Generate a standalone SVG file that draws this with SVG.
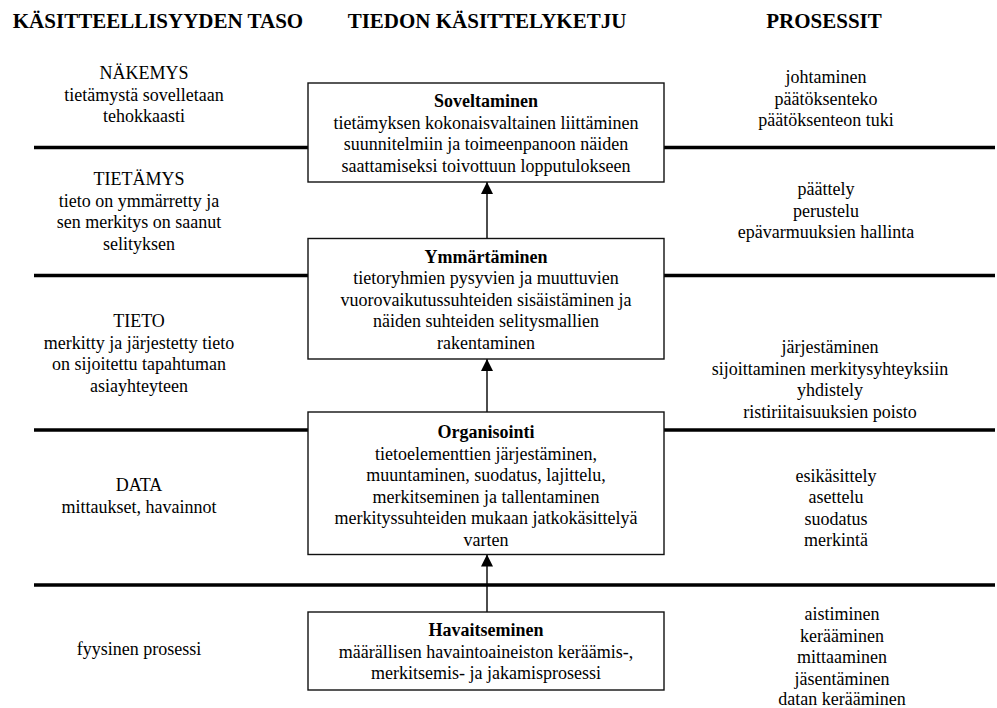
<svg xmlns="http://www.w3.org/2000/svg" width="997" height="708" viewBox="0 0 997 708">
  <style>
    text { font-family: "Liberation Serif", "Times New Roman", serif; fill: #000; text-anchor: middle; }
    .hdr { font-size: 21px; font-weight: bold; }
    .txt { font-size: 18px; }
    .ttl { font-size: 18px; font-weight: bold; }
    .box { fill: #fff; stroke: #111; stroke-width: 1.4; }
    .sep { stroke: #000; stroke-width: 3.5; fill: none; }
    .arr { stroke: #000; stroke-width: 1.4; fill: none; marker-end: url(#head); }
  </style>
  <defs>
    <marker id="head" viewBox="0 0 12 12" refX="12" refY="6" markerWidth="12" markerHeight="12" markerUnits="userSpaceOnUse" orient="auto">
      <path d="M0,0 L12,6 L0,12 Z" fill="#000"/>
    </marker>
  </defs>

  <rect width="997" height="708" fill="#fff"/>

  <!-- column headings -->
  <g id="headings">
    <text class="hdr" x="158" y="28">KÄSITTEELLISYYDEN TASO</text>
    <text class="hdr" x="487" y="28">TIEDON KÄSITTELYKETJU</text>
    <text class="hdr" x="824" y="28">PROSESSIT</text>
  </g>

  <!-- level separators -->
  <g id="separators">
    <line class="sep" x1="34" y1="147.5" x2="308" y2="147.5"/>
    <line class="sep" x1="664" y1="147.5" x2="995" y2="147.5"/>
    <line class="sep" x1="34" y1="275.5" x2="308" y2="275.5"/>
    <line class="sep" x1="664" y1="275.5" x2="995" y2="275.5"/>
    <line class="sep" x1="34" y1="430" x2="308" y2="430"/>
    <line class="sep" x1="664" y1="430" x2="995" y2="430"/>
    <line class="sep" x1="34" y1="585" x2="995" y2="585"/>
  </g>

  <!-- connectors between processing stages -->
  <g id="connectors">
    <line class="arr" x1="487" y1="238.5" x2="487" y2="182"/>
    <line class="arr" x1="487" y1="412" x2="487" y2="359"/>
    <line class="arr" x1="487" y1="612" x2="487" y2="554.5"/>
  </g>

  <!-- processing stages -->
  <g id="soveltaminen">
    <rect class="box" x="308" y="83" width="356" height="99"/>
    <text class="ttl" x="486" y="107">Soveltaminen</text>
    <text class="txt" x="486" y="128.5">tietämyksen kokonaisvaltainen liittäminen</text>
    <text class="txt" x="486" y="150">suunnitelmiin ja toimeenpanoon näiden</text>
    <text class="txt" x="486" y="171.5">saattamiseksi toivottuun lopputulokseen</text>
  </g>

  <g id="ymmartaminen">
    <rect class="box" x="308" y="238.5" width="356" height="120.5"/>
    <text class="ttl" x="486" y="262.5">Ymmärtäminen</text>
    <text class="txt" x="486" y="284">tietoryhmien pysyvien ja muuttuvien</text>
    <text class="txt" x="486" y="305.5">vuorovaikutussuhteiden sisäistäminen ja</text>
    <text class="txt" x="486" y="327">näiden suhteiden selitysmallien</text>
    <text class="txt" x="486" y="348.5">rakentaminen</text>
  </g>

  <g id="organisointi">
    <rect class="box" x="308" y="412" width="356" height="142.5"/>
    <text class="ttl" x="486" y="438">Organisointi</text>
    <text class="txt" x="486" y="459.5">tietoelementtien järjestäminen,</text>
    <text class="txt" x="486" y="481">muuntaminen, suodatus, lajittelu,</text>
    <text class="txt" x="486" y="502.5">merkitseminen ja tallentaminen</text>
    <text class="txt" x="486" y="524">merkityssuhteiden mukaan jatkokäsittelyä</text>
    <text class="txt" x="486" y="545.5">varten</text>
  </g>

  <g id="havaitseminen">
    <rect class="box" x="308" y="612" width="356" height="78"/>
    <text class="ttl" x="486" y="636">Havaitseminen</text>
    <text class="txt" x="486" y="657.5">määrällisen havaintoaineiston keräämis-,</text>
    <text class="txt" x="486" y="679">merkitsemis- ja jakamisprosessi</text>
  </g>

  <!-- conceptual levels -->
  <g id="taso-nakemys">
    <text class="txt" x="144" y="79">NÄKEMYS</text>
    <text class="txt" x="144" y="100.5">tietämystä sovelletaan</text>
    <text class="txt" x="144" y="122">tehokkaasti</text>
  </g>
  <g id="taso-tietamys">
    <text class="txt" x="139" y="185">TIETÄMYS</text>
    <text class="txt" x="139" y="206.5">tieto on ymmärretty ja</text>
    <text class="txt" x="139" y="228">sen merkitys on saanut</text>
    <text class="txt" x="139" y="249.5">selityksen</text>
  </g>
  <g id="taso-tieto">
    <text class="txt" x="139" y="327">TIETO</text>
    <text class="txt" x="139" y="348.5">merkitty ja järjestetty tieto</text>
    <text class="txt" x="139" y="370">on sijoitettu tapahtuman</text>
    <text class="txt" x="139" y="391.5">asiayhteyteen</text>
  </g>
  <g id="taso-data">
    <text class="txt" x="139" y="491">DATA</text>
    <text class="txt" x="139" y="512.5">mittaukset, havainnot</text>
  </g>
  <g id="taso-fyysinen">
    <text class="txt" x="139" y="655">fyysinen prosessi</text>
  </g>

  <!-- processes -->
  <g id="prosessit-soveltaminen">
    <text class="txt" x="826" y="83">johtaminen</text>
    <text class="txt" x="826" y="104.5">päätöksenteko</text>
    <text class="txt" x="826" y="126">päätöksenteon tuki</text>
  </g>
  <g id="prosessit-ymmartaminen">
    <text class="txt" x="826" y="195">päättely</text>
    <text class="txt" x="826" y="216.5">perustelu</text>
    <text class="txt" x="826" y="238">epävarmuuksien hallinta</text>
  </g>
  <g id="prosessit-organisointi">
    <text class="txt" x="830" y="353">järjestäminen</text>
    <text class="txt" x="830" y="374.5">sijoittaminen merkitysyhteyksiin</text>
    <text class="txt" x="830" y="396">yhdistely</text>
    <text class="txt" x="830" y="417.5">ristiriitaisuuksien poisto</text>
  </g>
  <g id="prosessit-data">
    <text class="txt" x="836" y="481.5">esikäsittely</text>
    <text class="txt" x="836" y="503">asettelu</text>
    <text class="txt" x="836" y="524.5">suodatus</text>
    <text class="txt" x="836" y="546">merkintä</text>
  </g>
  <g id="prosessit-havaitseminen">
    <text class="txt" x="842" y="620">aistiminen</text>
    <text class="txt" x="842" y="641.5">kerääminen</text>
    <text class="txt" x="842" y="663">mittaaminen</text>
    <text class="txt" x="842" y="684.5">jäsentäminen</text>
    <text class="txt" x="842" y="705">datan kerääminen</text>
  </g>
</svg>
